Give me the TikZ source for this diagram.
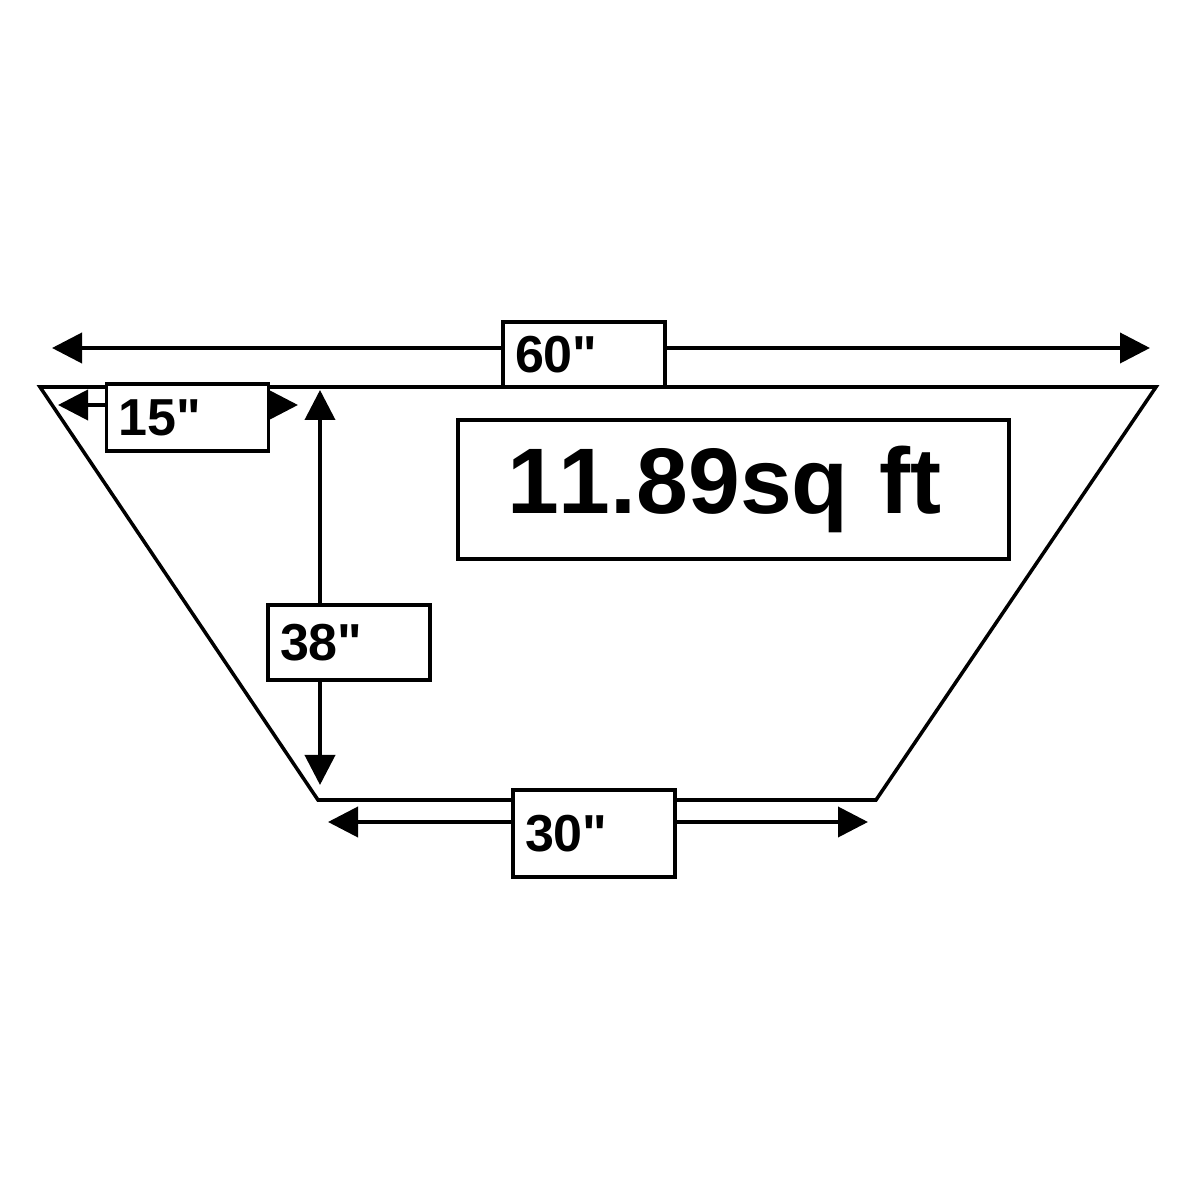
\documentclass[tikz,border=0pt]{standalone}
\usepackage{fontspec}
\setmainfont{Liberation Sans}[Ligatures=TeXOff,Kerning=Off]
\usetikzlibrary{arrows.meta}

\begin{document}
\begin{tikzpicture}[
		dimline/.style={line width=1.1pt,-{Triangle[length=3mm,width=3mm]}},
		lblbox/.style={draw,line width=1pt,fill=white,minimum width=1.62cm,text width=1.38cm,inner xsep=0.12cm,align=left,font=\fontsize{14.8}{16}\selectfont\bfseries},
		areabox/.style={draw,line width=1pt,minimum width=5.51cm,minimum height=1.39cm,text width=4.53cm,inner xsep=0.49cm,align=left,font=\fontsize{26.5}{30}\selectfont\bfseries}
	]
		\useasboundingbox (0,0) rectangle (12,12);
		
		% the trapezoid
		\draw[line width=1pt] (0.40,8.13) -- (11.56,8.13) -- (8.76,4.00) -- (3.18,4.00) -- cycle;
		
		% top width
		\node[lblbox,minimum height=0.65cm] (lbl60) at (5.84,8.455) {60"};
		\coordinate (w60l) at (0.52,8.52);
		\coordinate (w60r) at (11.50,8.52);
		\draw[dimline] (lbl60.west |- w60l) -- (w60l);
		\draw[dimline] (lbl60.east |- w60l) -- (w60r);
		
		% offset
		\node[lblbox,minimum height=0.67cm] (lbl15) at (1.875,7.825) {15"};
		\coordinate (w15l) at (0.58,7.95);
		\coordinate (w15r) at (2.98,7.95);
		\draw[dimline] (lbl15.west |- w15l) -- (w15l);
		\draw[dimline] (lbl15.east |- w15r) -- (w15r);
		
		% height
		\node[lblbox,minimum height=0.75cm] (lbl38) at (3.49,5.575) {38"};
		\coordinate (h38t) at (3.20,8.10);
		\coordinate (h38b) at (3.20,4.15);
		\draw[dimline] (h38t |- lbl38.north) -- (h38t);
		\draw[dimline] (h38b |- lbl38.south) -- (h38b);
		
		% bottom width
		\node[lblbox,minimum height=0.87cm] (lbl30) at (5.94,3.665) {30"};
		\coordinate (w30l) at (3.28,3.78);
		\coordinate (w30r) at (8.68,3.78);
		\draw[dimline] (lbl30.west |- w30l) -- (w30l);
		\draw[dimline] (lbl30.east |- w30r) -- (w30r);
		
		% area
		\node[areabox] (area) at (7.335,7.105) {11.89sq ft};
	\end{tikzpicture}
\end{document}
